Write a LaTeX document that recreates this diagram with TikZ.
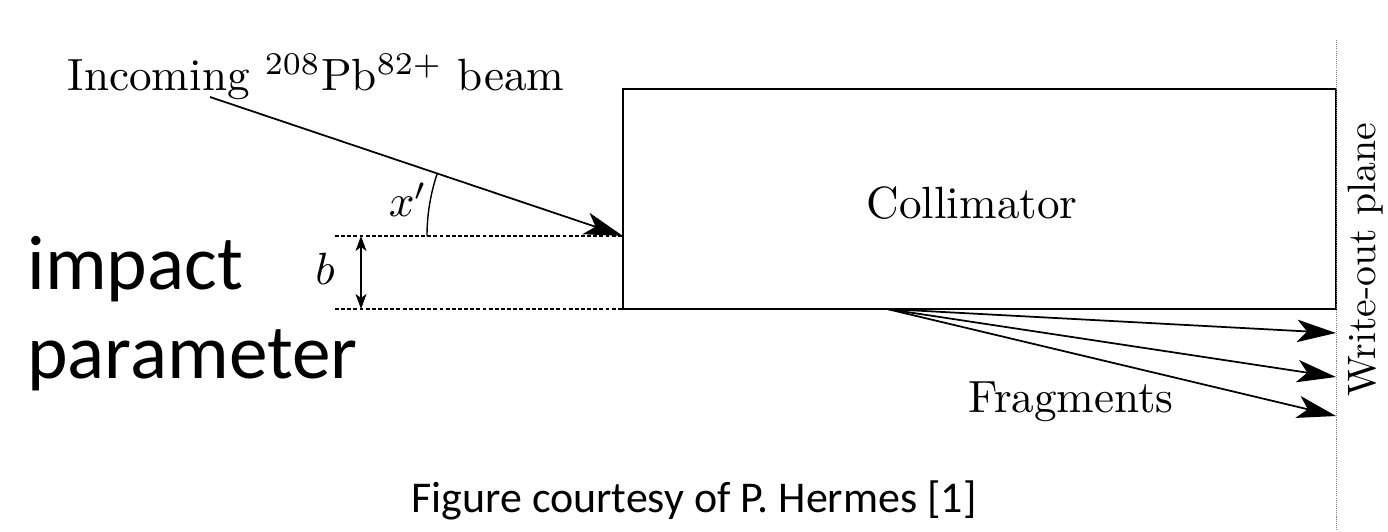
\documentclass[tikz,border=0pt]{standalone}
\usepackage{fontspec}
\newfontfamily\calib{Carlito}
\usetikzlibrary{arrows.meta}
\tikzset{
  big/.style={font=\fontsize{10}{12}\selectfont, scale=2.57, transform shape, inner sep=0pt},
  sanslab/.style={font=\calib\fontsize{44}{50}\selectfont, inner sep=0pt, anchor=base west},
  bigarrow/.style={line width=1pt, -{Stealth[length=0.78cm, width=0.45cm, inset=0.2cm]}},
  guide/.style={line width=0.6pt, dash pattern=on 2.2pt off 1.3pt},
  plane/.style={line width=0.5pt, gray, dash pattern=on 0.6pt off 0.6pt},
}
\begin{document}
\begin{tikzpicture}[x=0.02cm, y=0.02cm]
\useasboundingbox (0,0) rectangle (1388,531);
% collimator
\node[draw, line width=1pt, minimum width=14.26cm, minimum height=4.4cm, inner sep=0pt] (coll) at (979.5,332) {};
\node[big, anchor=base] (colltxt) at (972,312) {Collimator};
% coordinates
\coordinate (bstart) at (210,434);
\coordinate (hit) at (623,295);
\coordinate (dl1) at (335,295);
\coordinate (dl2) at (335,222);
\coordinate (bot) at (623,222);
\coordinate (ba) at (361,295);
\coordinate (bb) at (361,222);
\coordinate (src) at (887,222);
\coordinate (f1) at (1336,198);
\coordinate (f2) at (1336,154);
\coordinate (f3) at (1336,115);
\coordinate (wtop) at (1336,491);
\coordinate (wbot) at (1336,0);
\coordinate (arcs) at (427,295);
% write-out plane
\draw[plane] (wtop) -- (wbot);
\node[big, scale=0.88, rotate=90] (wlab) at (1366,271) {Write-out plane};
% guides
\draw[guide] (dl1) -- (hit);
\draw[guide] (dl2) -- (bot);
% beam
\draw[bigarrow] (bstart) -- (hit);
\node[big, anchor=base west] (inc) at (67,440) {Incoming $^{208}$Pb$^{82+}$ beam};
% angle
\draw[line width=0.8pt] (arcs) arc[start angle=180, end angle=161.4, radius=3.92cm];
\node[big, anchor=base] (xp) at (408,314) {$x'$};
% b
\draw[line width=0.7pt, {Stealth[length=0.3cm,width=0.22cm,inset=0.08cm]}-{Stealth[length=0.3cm,width=0.22cm,inset=0.08cm]}] (ba) -- (bb);
\node[big, anchor=base] (blab) at (325,246) {$b$};
% fragments
\draw[bigarrow] (src) -- (f1);
\draw[bigarrow] (src) -- (f2);
\draw[bigarrow] (src) -- (f3);
\node[big, anchor=base] (frag) at (1071,119) {Fragments};
% sans labels
\node[sanslab] (imp) at (27,241) {impact};
\node[sanslab] (par) at (27,153) {parameter};
\node[font=\calib\fontsize{25}{30}\selectfont, inner sep=0pt, anchor=base] (court) at (694,19) {Figure courtesy of P. Hermes [1]};
\end{tikzpicture}
\end{document}
